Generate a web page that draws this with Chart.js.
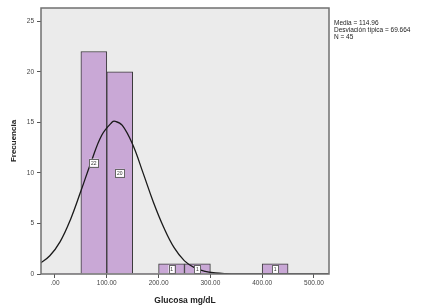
<!DOCTYPE html>
<html><head><meta charset="utf-8">
<script src="https://cdn.jsdelivr.net/npm/chart.js@4"></script>
<style>html,body{margin:0;padding:0;background:#fff}#c{display:block}</style>
</head><body>
<div style="width:435px;height:306px"><canvas id="c" width="435" height="306"></canvas></div>
<script>
// Histogram bins (centers, mg/dL) and counts
const binCenters = [25, 75, 125, 175, 225, 275, 325, 375, 425, 475];
const binCounts  = [0, 22, 20, 0, 1, 1, 0, 0, 1, 0];
// Normal curve
const curveX = [-30, -10, 10, 30, 50, 70, 90, 110, 116, 130, 150, 170, 190, 210, 230, 250, 270, 290, 310, 330, 350, 400, 450, 500, 529];
const curveY = [1.0, 1.8, 3.2, 5.4, 8.2, 11.1, 13.7, 15.0, 15.1, 14.7, 12.8, 10.0, 7.1, 4.6, 2.6, 1.3, 0.6, 0.25, 0.1, 0.03, 0, 0, 0, 0, 0];
const xTicks = [0, 100, 200, 300, 400, 500];
const yTicks = [0, 5, 10, 15, 20, 25];
const statsLines = ["Media = 114.96", "Desviación típica = 69.664", "N = 45"];

const FONT = "'Liberation Sans', Arial, sans-serif";

const frame = {
  id: 'frame',
  beforeDraw(chart) {
    const {ctx, chartArea: a} = chart;
    ctx.save();
    ctx.fillStyle = '#ebebeb';
    ctx.fillRect(a.left, a.top, a.right - a.left, a.bottom - a.top);
    ctx.restore();
  },
  afterDatasetsDraw(chart) {
    const {ctx, scales} = chart;
    ctx.save();
    ctx.font = "5px " + FONT;
    ctx.textAlign = 'center';
    ctx.textBaseline = 'middle';
    binCenters.forEach((c, i) => {
      const v = binCounts[i];
      if (!v) return;
      const px = scales.x.getPixelForValue(c);
      const py = scales.y.getPixelForValue(v / 2);
      const w = v >= 10 ? 9 : 6, h = 8;
      ctx.fillStyle = '#ffffff';
      ctx.fillRect(px - w / 2, py - h / 2, w, h);
      ctx.strokeStyle = '#666';
      ctx.lineWidth = 1;
      ctx.strokeRect(Math.round(px - w / 2) + 0.5, Math.round(py - h / 2) + 0.5, w, h);
      ctx.fillStyle = '#333';
      ctx.fillText(String(v), px, py + 0.5);
    });
    ctx.restore();
  },
  afterDraw(chart) {
    const {ctx, chartArea: a} = chart;
    ctx.save();
    ctx.strokeStyle = '#707070';
    ctx.lineWidth = 1.5;
    ctx.strokeRect(a.left, a.top, a.right - a.left, a.bottom - a.top);
    ctx.fillStyle = '#222';
    ctx.font = "6.5px " + FONT;
    ctx.textAlign = 'left';
    ctx.textBaseline = 'middle';
    statsLines.forEach((t, i) => ctx.fillText(t, a.right + 5, 23 + i * 7));
    ctx.restore();
  }
};

new Chart(document.getElementById('c'), {
  data: {
    datasets: [
      {
        type: 'line',
        data: curveX.map((x, i) => ({x, y: curveY[i]})),
        borderColor: '#1a1a1a',
        borderWidth: 1.3,
        pointRadius: 0,
        tension: 0.4,
        fill: false,
        order: 0
      },
      {
        type: 'bar',
        data: binCenters.map((x, i) => ({x, y: binCounts[i]})),
        backgroundColor: '#c9a8d6',
        borderColor: '#3a3a3a',
        borderWidth: c => (c.raw && c.raw.y) ? 1 : 0,
        barPercentage: 1,
        categoryPercentage: 1,
        order: 1
      }
    ]
  },
  options: {
    responsive: false,
    animation: false,
    events: [],
    layout: {padding: {top: 8, right: 106, left: 0, bottom: 0}},
    plugins: {legend: {display: false}, tooltip: {enabled: false}},
    scales: {
      x: {
        type: 'linear',
        offset: false,
        min: -27, max: 529,
        afterBuildTicks: s => { s.ticks = xTicks.map(v => ({value: v})); },
        afterFit: s => { s.height = 32; },
        border: {display: false},
        grid: {offset: false, drawOnChartArea: false, tickLength: 4, color: '#555', tickColor: '#555'},
        ticks: {
          font: {family: FONT, size: 6.5}, color: '#444', padding: 1, maxRotation: 0,
          callback: v => v === 0 ? '.00' : v.toFixed(2)
        },
        title: {display: true, text: 'Glucosa mg/dL', font: {family: FONT, size: 8.5, weight: 'bold'}, color: '#222', padding: {top: 3, bottom: 0}}
      },
      y: {
        min: 0, max: 26.3,
        afterBuildTicks: s => { s.ticks = yTicks.map(v => ({value: v})); },
        afterFit: s => { s.width = 41; },
        border: {display: false},
        grid: {drawOnChartArea: false, tickLength: 4, color: '#555', tickColor: '#555'},
        ticks: {font: {family: FONT, size: 6.5}, color: '#444', padding: 3},
        title: {display: true, text: 'Frecuencia', font: {family: FONT, size: 8, weight: 'bold'}, color: '#222', padding: {top: 9, bottom: 4}}
      }
    }
  },
  plugins: [frame]
});
</script>
</body></html>
